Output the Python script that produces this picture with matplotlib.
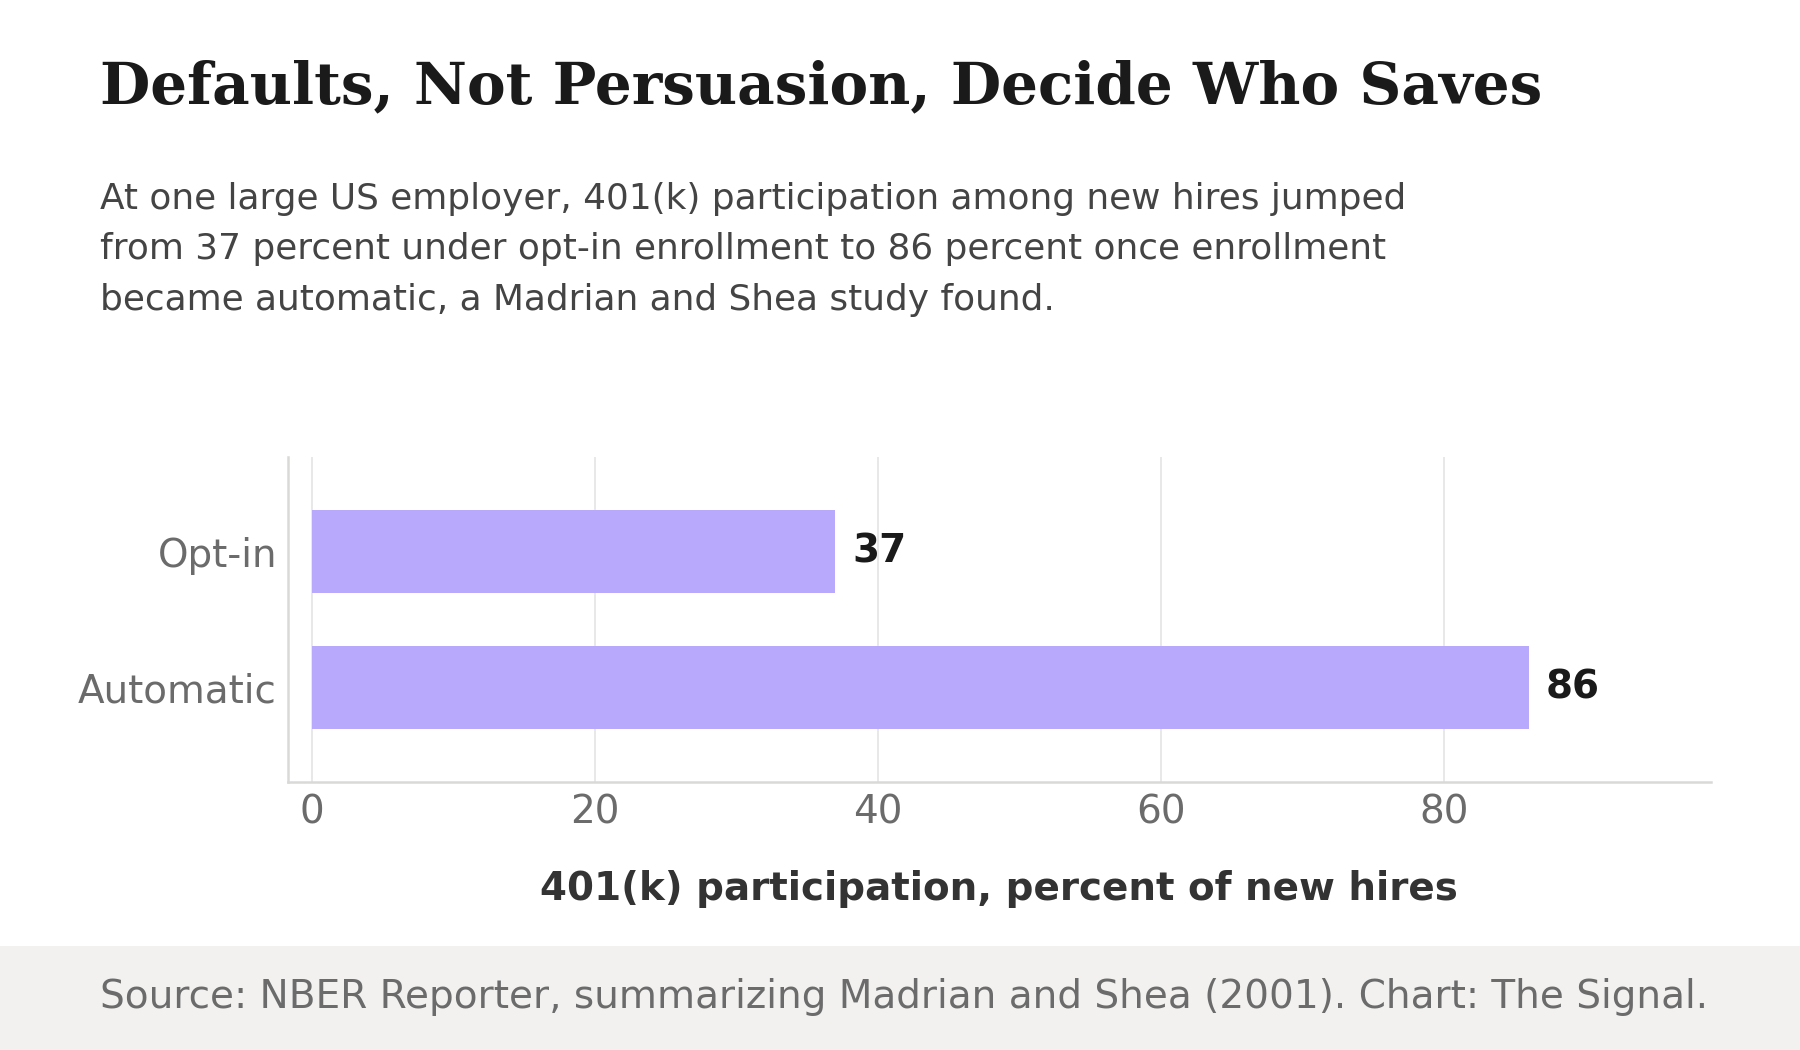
import matplotlib
matplotlib.use("Agg")
import matplotlib.pyplot as plt
from matplotlib.patches import Rectangle

# ---- data ----
categories = ["Opt-in", "Automatic"]
values = [37, 86]
x_ticks = [0, 20, 40, 60, 80]

title = "Defaults, Not Persuasion, Decide Who Saves"
subtitle_lines = [
    "At one large US employer, 401(k) participation among new hires jumped",
    "from 37 percent under opt-in enrollment to 86 percent once enrollment",
    "became automatic, a Madrian and Shea study found.",
]
x_label = "401(k) participation, percent of new hires"
source = "Source: NBER Reporter, summarizing Madrian and Shea (2001). Chart: The Signal."

W, H = 1800, 1050
fig = plt.figure(figsize=(18, 10.5), dpi=100)
fig.patch.set_facecolor("white")

def fy(py):
    return 1 - py / H

def fx(px):
    return px / W

# footer band
fig.patches.append(Rectangle((0, 0), 1, fy(946), transform=fig.transFigure,
                             facecolor="#f2f1f0", edgecolor="none", zorder=0))

ax = fig.add_axes([fx(288), fy(782), fx(1710.6) - fx(288), fy(457) - fy(782)])
ax.set_facecolor("white")

y = list(range(len(categories)))
ax.barh(y, values, height=0.615, color="#b8a9fd", zorder=2)
ax.set_ylim(1.7, -0.7)
ax.set_xlim(-1.68, 98.86)
ax.set_yticks(y)
ax.set_yticklabels(categories)
ax.set_xticks(x_ticks)
ax.tick_params(axis="both", length=0, labelsize=28, labelcolor="#6b6b6b", pad=8)
ax.grid(axis="x", color="#e4e4e4", linewidth=1.2, zorder=0)
ax.set_axisbelow(True)
for s in ["top", "right"]:
    ax.spines[s].set_visible(False)
for s in ["left", "bottom"]:
    ax.spines[s].set_color("#d9d9d6")
    ax.spines[s].set_linewidth(1.8)

for yi, v in zip(y, values):
    ax.annotate(str(v), xy=(v, yi), xytext=(12, 0), textcoords="offset points",
                va="center", ha="left", fontsize=28, fontweight="bold", color="#1a1a1a")

ax.set_xlabel(x_label, fontsize=28, fontweight="bold", color="#333333", labelpad=28)

fig.text(fx(100), fy(103), title, fontsize=41.8, fontweight="bold",
         family="DejaVu Serif", color="#1a1a1a", va="baseline", ha="left")
for i, line in enumerate(subtitle_lines):
    fig.text(fx(100), fy(209 + 50.5 * i), line, fontsize=25.85, color="#444444",
             va="baseline", ha="left")
fig.text(fx(100), fy(1008), source, fontsize=28.1, color="#6b6b6b",
         va="baseline", ha="left")

fig.savefig("out.png", dpi=100, facecolor="white")
